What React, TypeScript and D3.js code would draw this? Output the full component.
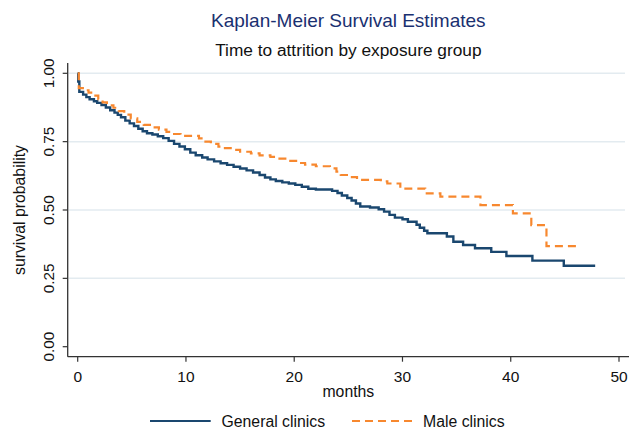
import React from "react";
import * as d3 from "d3";

const title = "Kaplan-Meier Survival Estimates";
const subtitle = "Time to attrition by exposure group";
const xLabel = "months";
const yLabel = "survival probability";
const xTicks = [0, 10, 20, 30, 40, 50];
const yTicks = [0, 0.25, 0.5, 0.75, 1.0];
const yTickLabels = ["0.00", "0.25", "0.50", "0.75", "1.00"];
const gridValues = [0.25, 0.5, 0.75, 1.0];
const seriesNames = ["General clinics", "Male clinics"];

// General clinics: step times (months) and survival after each step
const generalTime = [
  0, 0.05, 0.15, 0.5, 0.8, 1.1, 1.5, 1.8, 2.2, 2.6, 3.0, 3.4, 3.7, 4.0, 4.4, 4.8,
  5.2, 5.6, 6.0, 6.4, 6.9, 7.4, 7.9, 8.4, 8.9, 9.4, 9.9, 10.4, 10.9, 11.5, 12.0,
  12.6, 13.2, 13.8, 14.4, 15.0, 15.6, 16.2, 16.8, 17.3, 17.8, 18.3, 18.9, 19.5,
  20.1, 20.7, 21.3, 22.0, 23.5, 24.0, 24.4, 24.9, 25.3, 25.7, 26.1, 27.0, 27.8,
  28.3, 28.8, 29.3, 30.0, 30.5, 31.3, 31.6, 32.0, 32.3, 34.1, 34.7, 35.6, 36.7,
  38.2, 39.6, 42.0, 44.9, 47.8,
];
const generalSurv = [
  1.0, 0.97, 0.932, 0.922, 0.913, 0.905, 0.898, 0.892, 0.884, 0.875, 0.865, 0.856,
  0.848, 0.839, 0.827, 0.817, 0.807, 0.797, 0.788, 0.781, 0.776, 0.77, 0.763,
  0.753, 0.742, 0.732, 0.722, 0.71, 0.7, 0.692, 0.685, 0.678, 0.671, 0.665,
  0.658, 0.652, 0.645, 0.637, 0.628, 0.619, 0.612, 0.606, 0.601, 0.597, 0.592,
  0.585, 0.578, 0.575, 0.57, 0.562, 0.553, 0.544, 0.535, 0.524, 0.513, 0.509,
  0.503, 0.494, 0.482, 0.472, 0.466, 0.457, 0.446, 0.435, 0.424, 0.415, 0.403,
  0.384, 0.372, 0.36, 0.347, 0.332, 0.315, 0.296, 0.296,
];

// Male clinics
const maleTime = [
  0, 0.1, 0.6, 1.0, 1.4, 1.9, 2.3, 2.7, 3.3, 3.8, 4.3, 4.9, 5.5, 6.1, 6.8, 7.5,
  8.2, 8.8, 9.5, 11.2, 11.6, 12.3, 13.0, 13.6, 14.5, 15.0, 16.0, 16.8, 17.8,
  18.5, 19.3, 20.3, 21.0, 22.0, 23.3, 23.9, 24.3, 25.2, 25.8, 28.0, 28.6, 29.8,
  32.1, 33.5, 37.2, 40.2, 41.9, 43.3, 46.1,
];
const maleSurv = [
  1.0, 0.946, 0.938, 0.929, 0.918, 0.905, 0.894, 0.883, 0.874, 0.862, 0.849, 0.835,
  0.822, 0.811, 0.802, 0.794, 0.786, 0.778, 0.771, 0.762, 0.75, 0.742, 0.732,
  0.726, 0.72, 0.713, 0.707, 0.7, 0.694, 0.688, 0.68, 0.672, 0.666, 0.66, 0.652,
  0.64, 0.628, 0.62, 0.61, 0.605, 0.597, 0.578, 0.561, 0.549, 0.518, 0.488,
  0.445, 0.368, 0.368,
];

const W = 629;
const H = 432;
const FONT = "'Liberation Sans', Arial, Helvetica, sans-serif";
const BLUE = "#1a476f";
const ORANGE = "#f7882f";
const GRID = "#e3ebf0";
const AXIS = "#333333";

export default function App() {
  const x = d3.scaleLinear().domain([0, 50]).range([77.7, 619]);
  const y = d3.scaleLinear().domain([0, 1]).range([346.7, 73.3]);
  const plotLeft = 67.7;
  const plotRight = 629;
  const axisY = 356.7;

  const line = d3
    .line<[number, number]>()
    .x((d) => x(d[0]))
    .y((d) => y(d[1]))
    .curve(d3.curveStepAfter);

  const general: [number, number][] = generalTime.map((t, i) => [t, generalSurv[i]]);
  const male: [number, number][] = maleTime.map((t, i) => [t, maleSurv[i]]);

  const cx = (plotLeft + plotRight) / 2;

  return (
    <svg
      width={W}
      height={H}
      style={{ position: "absolute", left: 0, top: 0, background: "#ffffff" }}
      fontFamily={FONT}
    >
      <rect x={0} y={0} width={W} height={H} fill="#ffffff" />
      <text x={cx} y={27} textAnchor="middle" fontSize={19} fill="#1a3070">
        {title}
      </text>
      <text x={cx} y={55.5} textAnchor="middle" fontSize={17.3} fill="#111">
        {subtitle}
      </text>

      {gridValues.map((v) => (
        <line
          key={"g" + v}
          x1={plotLeft + 1}
          x2={625}
          y1={y(v)}
          y2={y(v)}
          stroke={GRID}
          strokeWidth={1.5}
        />
      ))}

      {/* axes */}
      <line x1={plotLeft} x2={plotLeft} y1={63} y2={axisY} stroke={AXIS} strokeWidth={1.3} />
      <line x1={plotLeft} x2={plotRight} y1={axisY} y2={axisY} stroke={AXIS} strokeWidth={1.3} />

      {yTicks.map((v, i) => (
        <g key={"yt" + v}>
          <line x1={plotLeft - 5} x2={plotLeft} y1={y(v)} y2={y(v)} stroke={AXIS} strokeWidth={1.2} />
          <text
            transform={`translate(53.5,${y(v)}) rotate(-90)`}
            textAnchor="middle"
            fontSize={15.3}
            fill="#111"
          >
            {yTickLabels[i]}
          </text>
        </g>
      ))}

      {xTicks.map((v) => (
        <g key={"xt" + v}>
          <line x1={x(v)} x2={x(v)} y1={axisY} y2={axisY + 5} stroke={AXIS} strokeWidth={1.2} />
          <text x={x(v)} y={381.5} textAnchor="middle" fontSize={15.5} fill="#111">
            {v}
          </text>
        </g>
      ))}

      <text x={cx} y={396.5} textAnchor="middle" fontSize={15.8} fill="#111">
        {xLabel}
      </text>
      <text
        transform={`translate(25,${(y(0) + y(1)) / 2}) rotate(-90)`}
        textAnchor="middle"
        fontSize={15.8}
        fill="#111"
      >
        {yLabel}
      </text>

      {/* curves */}
      <path d={line(general) || ""} fill="none" stroke={BLUE} strokeWidth={2.4} />
      <path
        d={line(male) || ""}
        fill="none"
        stroke={ORANGE}
        strokeWidth={2.2}
        strokeDasharray="8,5"
      />

      {/* legend */}
      <line x1={150} x2={210.7} y1={421} y2={421} stroke={BLUE} strokeWidth={2.2} />
      <text x={221.5} y={426.5} fontSize={15.8} fill="#111">
        {seriesNames[0]}
      </text>
      <line
        x1={352}
        x2={412}
        y1={421}
        y2={421}
        stroke={ORANGE}
        strokeWidth={2.2}
        strokeDasharray="8,5"
      />
      <text x={423} y={426.5} fontSize={15.8} fill="#111">
        {seriesNames[1]}
      </text>
    </svg>
  );
}
